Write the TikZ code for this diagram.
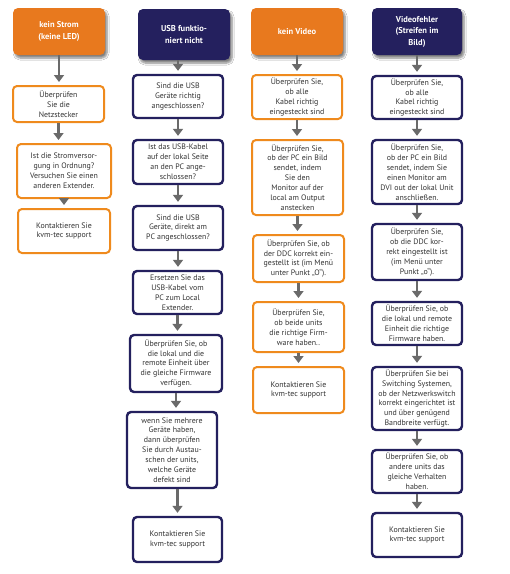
\documentclass[tikz,border=0pt]{standalone}
\usepackage{fontspec}
\setmainfont{PT Sans}
\usetikzlibrary{arrows.meta,shadows.blur}
\definecolor{kor}{HTML}{E8791E}
\definecolor{kbor}{HTML}{EF8A1D}
\definecolor{knavy}{HTML}{24205E}
\definecolor{karrow}{HTML}{6A6A6A}
\definecolor{ktext}{HTML}{333333}
\tikzset{
  hdr/.style={rounded corners=5pt, text=white, align=center, inner sep=0pt,
    font=\fontsize{8.5}{11.5}\selectfont\bfseries,
    blur shadow={shadow xshift=2pt, shadow yshift=-3pt, shadow blur steps=6, shadow opacity=50}},
  ohdr/.style={hdr, fill=kor},
  nhdr/.style={hdr, fill=knavy},
  box/.style={rounded corners=4pt, fill=white, align=center, inner sep=0pt,
    text=ktext, font=\fontsize{7.9}{9.9}\selectfont},
  obox/.style={box, draw=kbor, line width=2pt},
  nbox/.style={box, draw=knavy, line width=2.4pt},
  flow/.style={draw=karrow, line width=2.6pt, shorten >=3pt,
    -{Triangle[width=10pt,length=7pt]}}
}
\newcommand{\fl}[2]{\draw[flow] (#1.south) -- (#1.south |- #2.north);}
\begin{document}
\begin{tikzpicture}[x=1pt,y=-1pt]
\fill[white] (0,0) rectangle (510,574);
\useasboundingbox (0,0) rectangle (510,574);
% column 1
\node[ohdr, minimum width=92pt, minimum height=47pt] (h1) at (59,31.5) {kein Strom\\(keine LED)};
\node[obox, minimum width=91pt, minimum height=36pt] (a1) at (58.5,104) {Überprüfen\\Sie die\\Netzstecker};
\node[obox, minimum width=94pt, minimum height=54pt] (a2) at (64,171) {Ist die Stromversor-\\gung in Ordnung?\\Versuchen Sie einen\\anderen Extender.};
\node[obox, minimum width=92pt, minimum height=44pt] (a3) at (64,231) {Kontaktieren Sie\\kvm-tec support};
\fl{h1}{a1}\fl{a1}{a2}\fl{a2}{a3}
% column 2
\node[nhdr, minimum width=92pt, minimum height=51pt] (h2) at (184,34.5) {USB funktio-\\niert nicht};
\node[nbox, minimum width=90pt, minimum height=43pt] (b1) at (178,96.5) {Sind die USB\\Geräte richtig\\angeschlossen?};
\node[nbox, minimum width=90pt, minimum height=44pt] (b2) at (178,162) {Ist das USB-Kabel\\auf der lokal Seite\\an den PC ange-\\schlossen?};
\node[nbox, minimum width=90pt, minimum height=44pt] (b3) at (178,228) {Sind die USB\\Geräte, direkt am\\PC angeschlossen?};
\node[nbox, minimum width=89pt, minimum height=43pt] (b4) at (177.5,292.5) {Ersetzen Sie das\\USB-Kabel vom\\PC zum Local\\Extender.};
\node[nbox, minimum width=92pt, minimum height=57pt] (b5) at (176,363.5) {Überprüfen Sie, ob\\die lokal und die\\remote Einheit über\\die gleiche Firmware\\verfügen.};
\node[nbox, minimum width=90pt, minimum height=76pt] (b6) at (172,450) {wenn Sie mehrere\\Geräte haben,\\dann überprüfen\\Sie durch Austau-\\schen der units,\\welche Geräte\\defekt sind};
\node[nbox, minimum width=89pt, minimum height=45pt] (b7) at (177.5,539.5) {Kontaktieren Sie\\kvm-tec support};
\draw[flow] (h2.south -| b1.north) -- (b1.north);
\fl{b1}{b2}\fl{b2}{b3}\fl{b3}{b4}\fl{b4}{b5}
\draw[flow] (b5.south) -- (b5.south |- b6.north);
\draw[flow] (b6.south -| b7.north) -- (b7.north);
% column 3
\node[ohdr, minimum width=92pt, minimum height=47pt] (h3) at (297,31.5) {kein Video};
\node[obox, minimum width=90pt, minimum height=44pt] (c1) at (297,97) {Überprüfen Sie,\\ob alle\\Kabel richtig\\eingesteckt sind};
\node[obox, minimum width=91pt, minimum height=75pt] (c2) at (297.5,177.5) {Überprüfen Sie,\\ob der PC ein Bild\\sendet, indem\\Sie den\\Monitor auf der\\local am Output\\anstecken};
\node[obox, minimum width=91pt, minimum height=47pt] (c3) at (298.5,258.5) {Überprüfen Sie, ob\\der DDC korrekt ein-\\gestellt ist (im Menü\\unter Punkt „O“).};
\node[obox, minimum width=91pt, minimum height=50pt] (c4) at (298.5,327) {Überprüfen Sie,\\ob beide units\\die richtige Firm-\\ware haben..};
\node[obox, minimum width=91pt, minimum height=46pt] (c5) at (298.5,390) {Kontaktieren Sie\\kvm-tec support};
\fl{h3}{c1}\fl{c1}{c2}\fl{c2}{c3}\fl{c3}{c4}\fl{c4}{c5}
% column 4
\node[nhdr, minimum width=90pt, minimum height=47pt] (h4) at (417,31.5) {Videofehler\\(Streifen im\\Bild)};
\node[nbox, minimum width=90pt, minimum height=43pt] (d1) at (417,97.5) {Überprüfen Sie,\\ob alle\\Kabel richtig\\eingesteckt sind};
\node[nbox, minimum width=90pt, minimum height=64pt] (d2) at (417,172) {Überprüfen Sie,\\ob der PC ein Bild\\sendet, indem Sie\\einen Monitor am\\DVI out der lokal Unit\\anschließen.};
\node[nbox, minimum width=90pt, minimum height=56pt] (d3) at (417,252) {Überprüfen Sie,\\ob die DDC kor-\\rekt eingestellt ist\\(im Menü unter\\Punkt „o“).};
\node[nbox, minimum width=90pt, minimum height=43pt] (d4) at (417,323.5) {Überprüfen Sie, ob\\die lokal und remote\\Einheit die richtige\\Firmware haben.};
\node[nbox, minimum width=90pt, minimum height=63pt] (d5) at (417,398.5) {Überprüfen Sie bei\\Switching Systemen,\\ob der Netzwerkswitch\\korrekt eingerichtet ist\\und über genügend\\Bandbreite verfügt.};
\node[nbox, minimum width=90pt, minimum height=43pt] (d6) at (417,471.5) {Überprüfen Sie, ob\\andere units das\\gleiche Verhalten\\haben.};
\node[nbox, minimum width=90pt, minimum height=44pt] (d7) at (417,535) {Kontaktieren Sie\\kvm-tec support};
\fl{h4}{d1}\fl{d1}{d2}\fl{d2}{d3}\fl{d3}{d4}\fl{d4}{d5}\fl{d5}{d6}\fl{d6}{d7}
\end{tikzpicture}
\end{document}
